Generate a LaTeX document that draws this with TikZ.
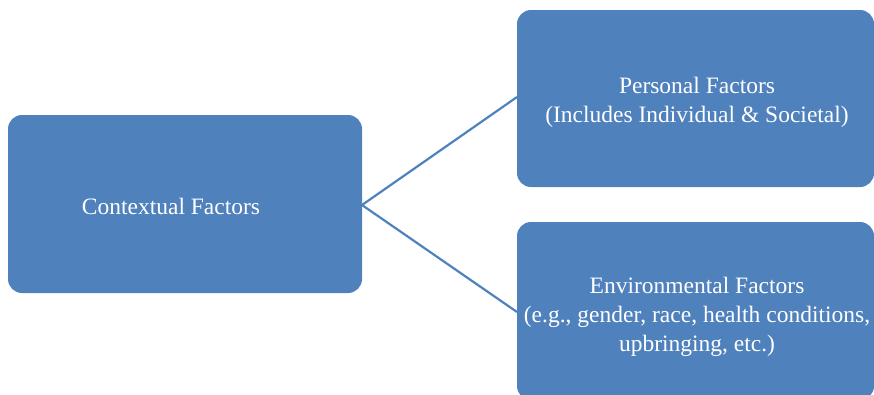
\documentclass[tikz,border=0pt]{standalone}
\usepackage{fontspec}
\setmainfont{Liberation Serif}
\definecolor{boxblue}{HTML}{4F81BD}
\begin{document}
\begin{tikzpicture}[x=1pt,y=-1pt,
  fbox/.style={fill=boxblue,draw=none,rounded corners=14pt},
  ftext/.style={text=white,align=center,font=\fontsize{23.5}{29}\selectfont,inner sep=0pt},
  conn/.style={draw=boxblue,line width=2.2pt}]
\useasboundingbox (0,0) rectangle (874,394);
\clip (0,0) rectangle (874,394);
\path[fbox] (8,115) rectangle (362,293);
\path[fbox] (517,10) rectangle (874,187);
\path[fbox] (517,222) rectangle (874,400);
\coordinate (c) at (362,205);
\coordinate (pw) at (517,97);
\coordinate (ew) at (517,312);
\node[ftext] (ctx) at (171,206) {Contextual Factors};
\node[ftext] (per) at (697,102) {Personal Factors\\(Includes Individual \& Societal)};
\node[ftext] (env) at (697,317) {Environmental Factors\\(e.g., gender, race, health conditions,\\upbringing, etc.)};
\draw[conn] (pw) -- (c) -- (ew);
\end{tikzpicture}
\end{document}
